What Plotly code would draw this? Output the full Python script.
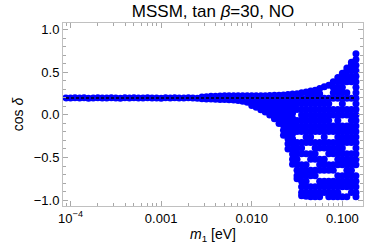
import plotly.graph_objects as go

# ---- data ----
# thin band at small m1 (m1 in eV, cos delta)
band_m1 = [8.91e-5, 1.00e-4, 1.12e-4, 1.26e-4, 1.41e-4, 1.58e-4, 1.78e-4, 2.00e-4, 2.24e-4, 2.51e-4,
           2.82e-4, 3.16e-4, 3.55e-4, 3.98e-4, 4.47e-4, 5.01e-4, 5.62e-4, 6.31e-4, 7.08e-4, 7.94e-4,
           8.91e-4, 1.00e-3, 1.12e-3, 1.26e-3, 1.41e-3, 1.58e-3, 1.78e-3, 2.00e-3, 2.24e-3, 2.51e-3]
band_cos = [0.200, 0.198, 0.202, 0.199, 0.201, 0.197, 0.200, 0.203, 0.199, 0.198,
            0.201, 0.200, 0.197, 0.202, 0.199, 0.201, 0.198, 0.200, 0.203, 0.199,
            0.200, 0.197, 0.201, 0.199, 0.202, 0.198, 0.200, 0.201, 0.199, 0.197]

# spreading region: m1 values and the cos delta values found at each m1
spread_m1 = [0.00282, 0.00316, 0.00355, 0.00398, 0.00447, 0.00501, 0.00562, 0.00631, 0.00708, 0.00794,
             0.00891, 0.0100, 0.0112, 0.0126, 0.0141, 0.0158, 0.0178, 0.0200, 0.0224, 0.0251,
             0.0282, 0.0316, 0.0355, 0.0398, 0.0447, 0.0501, 0.0562, 0.0631, 0.0708, 0.0794,
             0.0891, 0.1000, 0.1122, 0.1259, 0.1413]
spread_cos = [
    [0.19, 0.21],
    [0.188, 0.215],
    [0.186, 0.218],
    [0.184, 0.22],
    [0.182, 0.222],
    [0.18, 0.224],
    [0.178, 0.225],
    [0.175, 0.225],
    [0.17, 0.225],
    [0.16, 0.225],
    [0.15, 0.225],
    [0.11, 0.165, 0.225],
    [0.09, 0.15, 0.225],
    [0.06, 0.12, 0.175, 0.225],
    [0.035, 0.095, 0.155, 0.225],
    [0.0, 0.06, 0.12, 0.18, 0.228],
    [-0.045, 0.015, 0.075, 0.135, 0.19, 0.23],
    [-0.10, -0.04, 0.02, 0.08, 0.14, 0.19, 0.23],
    [-0.24, -0.18, -0.12, -0.06, 0.0, 0.06, 0.12, 0.18, 0.235],
    [-0.40, -0.34, -0.28, -0.22, -0.16, -0.10, -0.04, 0.02, 0.08, 0.14, 0.19, 0.24],
    [-0.58, -0.52, -0.46, -0.40, -0.34, -0.28, -0.22, -0.16, -0.10, -0.04, 0.02, 0.08, 0.14, 0.19, 0.245],
    [0.25, 0.195, 0.13, 0.065, -0.065, -0.13, -0.195, -0.325, -0.39, -0.455, -0.52, -0.585, -0.65,
     -0.715, -0.75],
    [0.26, 0.195, 0.13, 0.065, 0.0, -0.065, -0.13, -0.195, -0.325, -0.39, -0.455, -0.585, -0.65,
     -0.715, -0.78, -0.845, -0.91, -0.95],
    [0.27, 0.195, 0.13, 0.065, 0.0, -0.065, -0.13, -0.195, -0.26, -0.325, -0.455, -0.585, -0.65,
     -0.715, -0.78, -0.845, -0.91, -0.955],
    [0.28, 0.23, 0.195, 0.13, 0.065, 0.0, -0.065, -0.13, -0.195, -0.26, -0.325, -0.455, -0.52,
     -0.65, -0.715, -0.845, -0.91, -0.96],
    [0.29, 0.24, 0.195, 0.13, 0.065, 0.0, -0.065, -0.13, -0.195, -0.325, -0.39, -0.455, -0.52,
     -0.65, -0.715, -0.845, -0.91, -0.96],
    [0.31, 0.25, 0.195, 0.13, 0.065, 0.0, -0.065, -0.13, -0.195, -0.325, -0.39, -0.52, -0.585,
     -0.65, -0.78, -0.845, -0.91, -0.96],
    [0.33, 0.195, 0.13, 0.065, 0.0, -0.065, -0.13, -0.195, -0.26, -0.325, -0.39, -0.52, -0.585,
     -0.65, -0.78, -0.845, -0.91],
    [0.35, 0.195, 0.13, 0.065, 0.0, -0.065, -0.13, -0.195, -0.325, -0.39, -0.455, -0.585, -0.65,
     -0.78, -0.845, -0.91, -0.96],
    [0.39, 0.325, 0.26, 0.195, 0.065, 0.0, -0.13, -0.195, -0.325, -0.39, -0.455, -0.585, -0.65,
     -0.78, -0.845, -0.91, -0.96],
    [0.44, 0.39, 0.325, 0.26, 0.195, 0.065, 0.0, -0.065, -0.13, -0.195, -0.26, -0.325, -0.39, -0.455,
     -0.52, -0.585, -0.715, -0.78, -0.845, -0.91, -0.96],
    [0.49, 0.455, 0.39, 0.325, 0.26, 0.195, 0.13, 0.065, 0.0, -0.13, -0.195, -0.26, -0.325, -0.39,
     -0.455, -0.52, -0.585, -0.715, -0.78, -0.845, -0.96],
    [0.55, 0.52, 0.455, 0.39, 0.26, 0.195, 0.065, 0.0, -0.13, -0.195, -0.26, -0.325, -0.455, -0.52,
     -0.585, -0.65, -0.715, -0.78, -0.845, -0.96],
    [0.62, 0.585, 0.52, 0.455, 0.39, 0.195, 0.065, 0.0, -0.065, -0.13, -0.195, -0.26, -0.325, -0.455,
     -0.52, -0.585, -0.65, -0.715, -0.78, -0.845, -0.91],
    [0.72, 0.65, 0.585, 0.52, 0.455, 0.39, 0.325, 0.26, 0.195, 0.13, 0.065, 0.0, -0.065, -0.13, -0.195,
     -0.26, -0.325, -0.39, -0.455, -0.52, -0.585, -0.715, -0.78, -0.845, -0.91, -0.96],
]

ref_cos = 0.2  # dashed reference line

x_tick_vals = [1e-4, 1e-3, 1e-2, 1e-1]
x_tick_text = ["10<sup>\u22124</sup>", "0.001", "0.010", "0.100"]
y_tick_vals = [-1.0, -0.5, 0.0, 0.5, 1.0]

# ---- build figure ----
x_pts = list(band_m1)
y_pts = list(band_cos)
for m, col in zip(spread_m1, spread_cos):
    for c in col:
        x_pts.append(m)
        y_pts.append(c)

fig = go.Figure()
fig.add_trace(go.Scatter(
    x=x_pts, y=y_pts, mode="markers",
    marker=dict(color="#0000ff", size=7, line=dict(width=0)),
    showlegend=False, hoverinfo="skip",
))
fig.add_trace(go.Scatter(
    x=[min(x_pts), max(x_pts)], y=[ref_cos, ref_cos], mode="lines",
    line=dict(color="black", width=1.5, dash="3px,2px"),
    showlegend=False, hoverinfo="skip",
))

minor_x = [k * 10.0 ** e for e in (-5, -4, -3, -2, -1) for k in range(2, 10)]

frame = "#c0c0c0"
tickc = "#a8a8a8"

fig.update_layout(
    width=374, height=249,
    margin=dict(l=63, r=11, t=23, b=43),
    paper_bgcolor="white", plot_bgcolor="white",
    font=dict(family="Liberation Sans, Arial, sans-serif", size=13, color="black"),
    title=dict(text="MSSM, tan <i>\u03b2</i>=30, NO", x=0.5, xref="paper", xanchor="center",
               y=1 - 11 / 249, yref="container", yanchor="middle",
               font=dict(size=17, color="black")),
    xaxis=dict(
        type="log", range=[-4.083, -0.772],
        tickmode="array", tickvals=x_tick_vals, ticktext=x_tick_text,
        ticks="inside", ticklen=5, tickwidth=1, tickcolor=tickc,
        showline=True, linecolor=frame, linewidth=1, mirror="ticks",
        showgrid=False, zeroline=False,
        minor=dict(tickmode="array", tickvals=minor_x, ticks="inside", ticklen=3,
                   tickcolor=tickc, showgrid=False),
        title=dict(text="<i>m</i><sub>1</sub> [eV]", standoff=4, font=dict(size=14)),
        automargin=False,
    ),
    yaxis=dict(
        range=[-1.07, 1.08],
        tickmode="array", tickvals=y_tick_vals, tickformat=".1f",
        ticks="inside", ticklen=5, tickwidth=1, tickcolor=tickc,
        showline=True, linecolor=frame, linewidth=1, mirror="ticks",
        showgrid=False, zeroline=False,
        minor=dict(dtick=0.1, tick0=0, ticks="inside", ticklen=3, tickcolor=tickc, showgrid=False),
        title=dict(text="cos <i>\u03b4</i>", standoff=6, font=dict(size=14)),
        automargin=False,
    ),
)

fig.write_html("out.html", config={"displayModeBar": False},
               post_script="document.body.style.margin='0';")
